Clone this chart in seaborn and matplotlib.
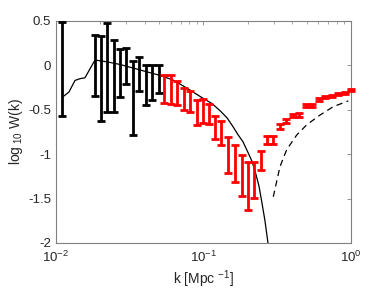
import numpy as np
import pandas as pd
import matplotlib
matplotlib.use("Agg")
import matplotlib.pyplot as plt
import seaborn as sns
from matplotlib.ticker import FixedLocator, FixedFormatter, LogLocator, NullFormatter

# ---- data ----
k_black = [0.01103, 0.01838, 0.02019, 0.02234, 0.02471, 0.02716, 0.03006,
           0.03327, 0.03682, 0.04075, 0.04510, 0.04991]
top_black = [0.49, 0.34, 0.33, 0.48, 0.29, 0.18, 0.19, 0.045, 0.09, 0.005, 0.005, 0.0]
bot_black = [-0.57, -0.345, -0.63, -0.52, -0.53, -0.36, -0.21, -0.78, -0.285, -0.445, -0.39, -0.31]

k_red = [0.05399, 0.05992, 0.06643, 0.07375, 0.08101, 0.08992, 0.09876, 0.1085,
         0.1197, 0.1314, 0.1466, 0.1635, 0.1816, 0.2012, 0.2217, 0.2454, 0.2694,
         0.2983, 0.3301, 0.3653, 0.4044, 0.4475, 0.4953, 0.5482, 0.6067, 0.6714,
         0.7431, 0.8226, 0.9107, 1.0]
top_red = [-0.105, -0.112, -0.18, -0.255, -0.29, -0.39, -0.375, -0.44, -0.57, -0.63,
           -0.81, -0.90, -1.005, -1.09, -1.09, -0.96, -0.795, -0.795, -0.655, -0.60,
           -0.545, -0.54, -0.44, -0.43, -0.37, -0.34, -0.335, -0.31, -0.30, -0.27]
bot_red = [-0.42, -0.435, -0.45, -0.50, -0.525, -0.675, -0.65, -0.66, -0.825, -0.90,
           -1.21, -1.31, -1.475, -1.63, -1.49, -1.175, -0.89, -0.89, -0.715, -0.65,
           -0.585, -0.58, -0.47, -0.465, -0.40, -0.365, -0.36, -0.335, -0.325, -0.29]

k_model = [0.01103, 0.01225, 0.01345, 0.01455, 0.01572, 0.01838, 0.02216, 0.02716,
           0.03327, 0.04075, 0.04991, 0.06114, 0.07261, 0.08487, 0.09922, 0.1142,
           0.1294, 0.1443, 0.1585, 0.1713, 0.1852, 0.2002, 0.2132, 0.2270, 0.2378,
           0.2492, 0.2611, 0.2737]
w_model = [-0.36, -0.30, -0.17, -0.15, -0.14, 0.06, 0.04, 0.01, -0.03, -0.07, -0.11,
           -0.16, -0.23, -0.30, -0.37, -0.43, -0.51, -0.59, -0.69, -0.78, -0.86, -0.98,
           -1.08, -1.23, -1.36, -1.55, -1.75, -2.0]

k_dash = [0.2973, 0.3301, 0.3664, 0.4283, 0.5008, 0.6164, 0.7586, 0.9587]
w_dash = [-1.48, -1.14, -0.95, -0.785, -0.67, -0.56, -0.465, -0.40]

y_ticks = [-2, -1.5, -1, -0.5, 0, 0.5]
y_tick_labels = ["-2", "-1.5", "-1", "-0.5", "0", "0.5"]

# ---- style ----
sns.set_theme(style="white")
plt.rcParams['font.family'] = ['Liberation Sans', 'DejaVu Sans']
plt.rcParams['mathtext.fontset'] = 'custom'
plt.rcParams['mathtext.rm'] = 'Liberation Sans'
plt.rcParams['mathtext.it'] = 'Liberation Sans:italic'
plt.rcParams['mathtext.bf'] = 'Liberation Sans:bold'

fig = plt.figure(figsize=(3.88, 2.91), dpi=100)
ax = fig.add_axes([0.1443, 0.165, 0.7603, 0.763])

df_model = pd.DataFrame({"k": k_model, "w": w_model})
df_dash = pd.DataFrame({"k": k_dash, "w": w_dash})
sns.lineplot(data=df_model, x="k", y="w", ax=ax, color="black", lw=0.9, sort=False)
sns.lineplot(data=df_dash, x="k", y="w", ax=ax, color="black", lw=0.9,
             linestyle=(0, (5, 3.5)), sort=False)

def draw_bars(k, top, bot, color):
    top = np.array(top); bot = np.array(bot)
    c = (top + bot) / 2
    e = (top - bot) / 2
    ax.errorbar(k, c, yerr=e, fmt='none', ecolor=color, elinewidth=2.0,
                capsize=3.0, capthick=2.0, clip_on=False, zorder=3)

draw_bars(k_black, top_black, bot_black, "black")
draw_bars(k_red, top_red, bot_red, "#ff0000")

ax.set_xscale("log")
ax.set_xlim(0.01, 1.0)
ax.set_ylim(-2, 0.5)
ax.yaxis.set_major_locator(FixedLocator(y_ticks))
ax.yaxis.set_major_formatter(FixedFormatter(y_tick_labels))
ax.xaxis.set_minor_locator(LogLocator(base=10, subs=np.arange(2, 10), numticks=20))
ax.xaxis.set_minor_formatter(NullFormatter())

for s in ax.spines.values():
    s.set_color("#808080")
    s.set_linewidth(0.8)
ax.tick_params(which="both", direction="in", top=True, right=True,
               color="#808080", labelsize=9.5, labelcolor="#262626")
ax.tick_params(which="major", length=3, width=0.6)
ax.tick_params(which="minor", length=2, width=0.5)
ax.tick_params(axis="x", which="major", pad=5)

ax.set_xlabel(r"k [Mpc $^{-1}$]", fontsize=10, color="#262626", labelpad=2)
ax.set_ylabel(r"log$_{\ 10}$ W(k)", fontsize=10, color="#262626", labelpad=2)

fig.savefig("out.png", dpi=100)
